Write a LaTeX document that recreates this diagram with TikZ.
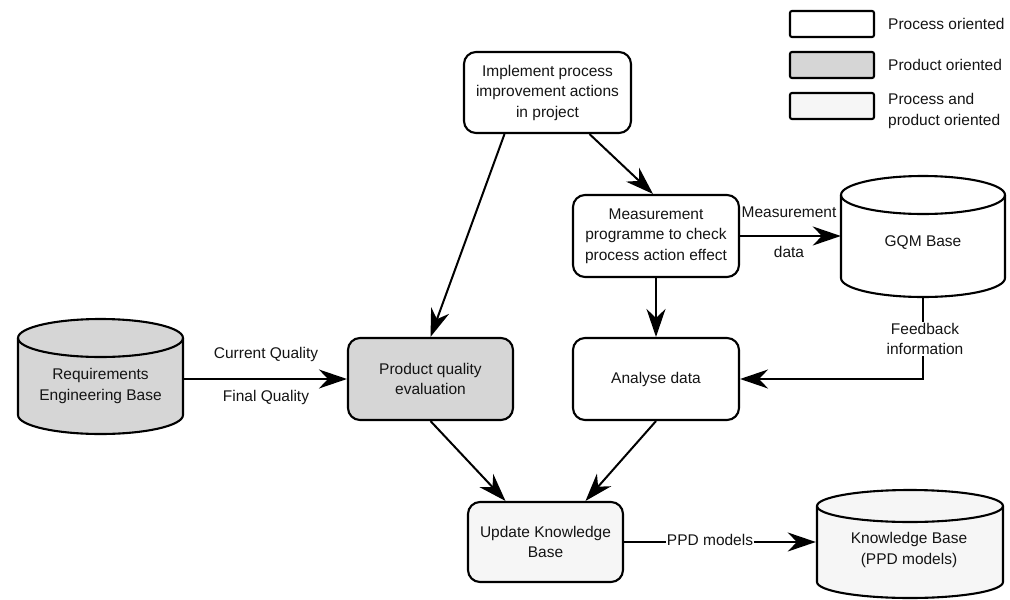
\documentclass[tikz,border=0pt]{standalone}
\usepackage{fontspec}
\setmainfont{Liberation Sans}
\usetikzlibrary{arrows.meta}

\definecolor{prodfill}{gray}{0.84}
\definecolor{bothfill}{gray}{0.965}

% cylinder outline: left x, right x, y of top ellipse centre, y of bottom ellipse centre, y radius, fill
\newcommand\drawcyl[6]{%
  \pgfmathsetmacro\cylcx{(#1+#2)/2}%
  \pgfmathsetmacro\cylrx{(#2-#1)/2}%
  \filldraw[cylline,fill=#6] (#1,#3) -- (#1,#4)
    arc[start angle=180,end angle=0,x radius=\cylrx,y radius=#5]
    -- (#2,#3)
    arc[start angle=0,end angle=-180,x radius=\cylrx,y radius=#5] -- cycle;
  \draw[cylline] (#1,#3) arc[start angle=180,end angle=0,x radius=\cylrx,y radius=#5];
}

\begin{document}
\begin{tikzpicture}[x=1pt,y=-1pt,
  every node/.style={font=\fontsize{15.5}{20.5}\selectfont,text=black!92},
  box/.style={draw,line width=2.1pt,rounded corners=12pt,align=center,inner sep=0pt},
  legbox/.style={draw,line width=2.1pt,rounded corners=2pt,minimum width=84pt,minimum height=26pt,inner sep=0pt},
  cylline/.style={line width=2.1pt},
  body/.style={align=center,inner sep=0pt},
  lbl/.style={align=center,inner sep=1pt},
  flow/.style={line width=2pt,-{Stealth[length=28pt,width=19pt,inset=9pt]}},
]
\useasboundingbox (0,0) rectangle (1010,600);

% legend
\node[legbox] (lg1) at (832,24) {};
\node[legbox,fill=prodfill] (lg2) at (832,65) {};
\node[legbox,fill=bothfill] (lg3) at (832,106) {};
\node[anchor=west,inner sep=0pt] (lt1) at (888,24) {Process oriented};
\node[anchor=west,inner sep=0pt] (lt2) at (888,65) {Product oriented};
\node[anchor=west,inner sep=0pt,align=left] (lt3) at (888,111) {Process and\\product oriented};

% cylinders (stores)
\drawcyl{18}{183}{338}{415}{19}{prodfill}
\drawcyl{841}{1005}{195}{278}{19}{white}
\drawcyl{817}{1003}{506}{582}{16}{bothfill}

\node[body,minimum width=165pt] (req) at (100.5,386) {Requirements\\Engineering Base};
\node[body,minimum width=164pt,minimum height=108pt] (gqm) at (923,243) {GQM Base};
\node[body,minimum width=186pt] (kb) at (909,550) {Knowledge Base\\(PPD models)};

% activities
\node[box,minimum width=167pt,minimum height=81pt] (impl) at (547.5,92.5)
  {Implement process\\improvement actions\\in project};
\node[box,minimum width=166pt,minimum height=82pt] (meas) at (656,236)
  {Measurement\\programme to check\\process action effect};
\node[box,minimum width=166pt,minimum height=82pt] (anal) at (656,379) {Analyse data};
\node[box,fill=prodfill,minimum width=165pt,minimum height=82pt] (pq) at (430.5,379)
  {Product quality\\evaluation};
\node[box,fill=bothfill,minimum width=155pt,minimum height=80pt] (upd) at (545.5,542)
  {Update Knowledge\\Base};

% flows
\draw[flow] ([xshift=-43pt]impl.south) -- (pq.north);
\draw[flow] ([xshift=42pt]impl.south) -- ([xshift=-3pt]meas.north);
\draw[flow] (meas.south) -- (anal.north);
\draw[flow] (req.east |- pq.west) -- (pq.west);
\draw[flow] (meas.east) -- (meas.east -| gqm.west);
\draw[flow] (gqm.south) |- (anal.east);
\draw[flow] (pq.south) -- ([xshift=-40pt]upd.north);
\draw[flow] (anal.south) -- ([xshift=40pt]upd.north);
\draw[flow] (upd.east) -- (upd.east -| kb.west);

% flow labels
\node[lbl] (cq) at (266,354) {Current Quality};
\node[lbl] (fq) at (266,397) {Final Quality};
\node[lbl] (md1) at (789,212) {Measurement};
\node[lbl] (md2) at (789,252) {data};
\node[lbl,fill=white] (fb) at (925,339) {Feedback\\information};
\node[lbl,fill=white] (ppd) at (710,540) {PPD models};
\end{tikzpicture}
\end{document}
